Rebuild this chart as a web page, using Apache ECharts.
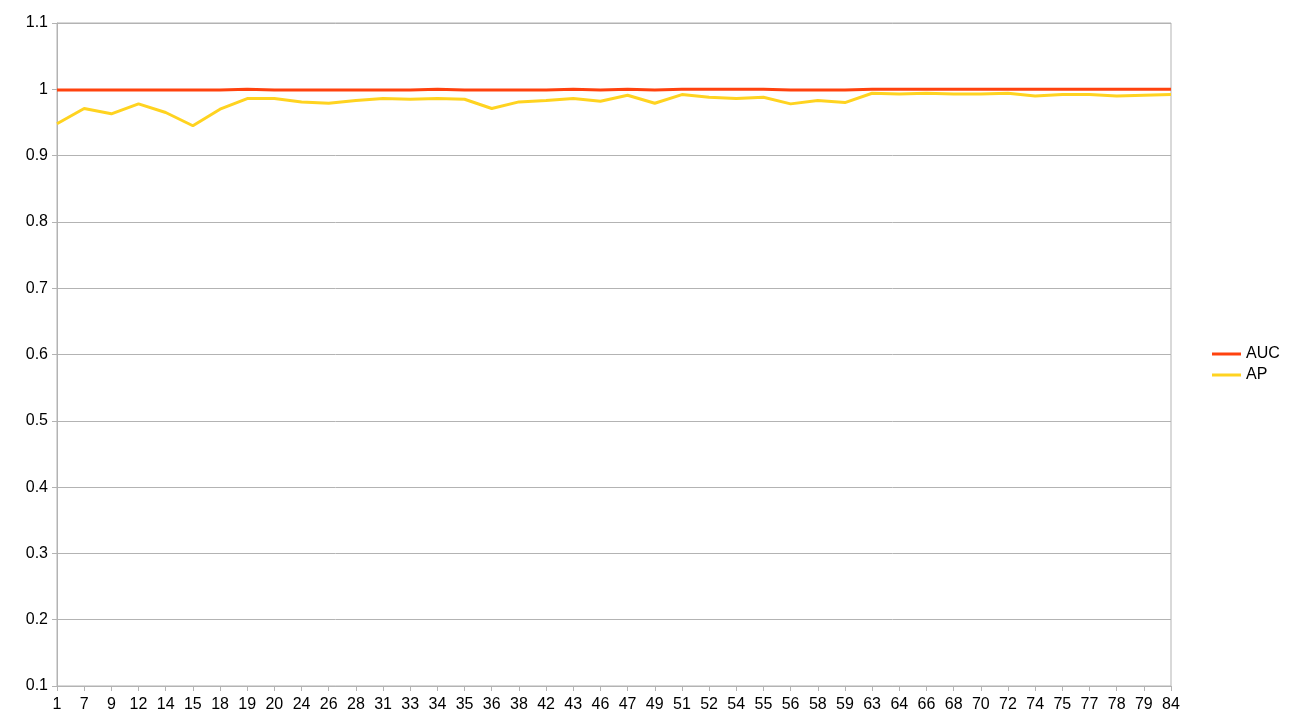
<!DOCTYPE html>
<html>
<head>
<meta charset="utf-8">
<script src="https://cdn.jsdelivr.net/npm/echarts@6/dist/echarts.min.js"></script>
<style>html,body{margin:0;padding:0;background:#fff}#c{width:1294px;height:728px}</style>
</head>
<body>
<div id="c"></div>
<script>
var categories = ['1','7','9','12','14','15','18','19','20','24','26','28','31','33','34','35','36','38','42','43','46','47','49','51','52','54','55','56','58','59','63','64','66','68','70','72','74','75','77','78','79','84'];
var aucValues = [0.999,0.999,0.999,0.999,0.999,0.999,0.999,1.0,0.999,0.999,0.999,0.999,0.999,0.999,1.0,0.999,0.999,0.999,0.999,1.0,0.999,1.0,0.999,1.0,1.0,1.0,1.0,0.999,0.999,0.999,1.0,1.0,1.0,1.0,1.0,1.0,1.0,1.0,1.0,1.0,1.0,1.0];
var apValues = [0.948,0.971,0.963,0.978,0.965,0.945,0.970,0.986,0.986,0.981,0.979,0.983,0.986,0.985,0.986,0.985,0.971,0.981,0.983,0.986,0.982,0.991,0.979,0.992,0.988,0.986,0.988,0.978,0.983,0.980,0.994,0.993,0.994,0.993,0.993,0.994,0.990,0.992,0.992,0.990,0.991,0.992];
var seriesNames = ['AUC','AP'];

var chart = echarts.init(document.getElementById('c'), null, {renderer:'canvas'});
var font = 'Liberation Sans';
chart.setOption({
  animation: false,
  backgroundColor: '#ffffff',
  grid: {left:57, right:123, top:23, bottom:42, show:true, borderColor:'#b3b3b3', borderWidth:1, backgroundColor:'transparent'},
  legend: {
    orient:'vertical', left:1207, top:341, itemWidth:29, itemHeight:3, itemGap:5, icon:'rect',
    textStyle:{fontFamily:font, fontSize:16, color:'#000'},
    data: seriesNames
  },
  xAxis: {
    type:'category', data:categories, boundaryGap:false,
    axisLine:{lineStyle:{color:'#b3b3b3'}},
    axisTick:{show:true, length:5, alignWithLabel:true, interval:0, lineStyle:{color:'#b3b3b3'}},
    axisLabel:{interval:0, fontFamily:font, fontSize:16, color:'#000', margin:11},
    splitLine:{show:false}
  },
  yAxis: {
    type:'value', min:0.1, max:1.1, interval:0.1,
    axisLine:{show:true, lineStyle:{color:'#b3b3b3'}},
    axisTick:{show:true, length:5, lineStyle:{color:'#b3b3b3'}},
    axisLabel:{fontFamily:font, fontSize:16, color:'#000', margin:9, formatter:function(v){return String(Math.round(v*10)/10);}},
    splitLine:{show:true, lineStyle:{color:'#b3b3b3'}}
  },
  series: [
    {name:seriesNames[0], type:'line', data:aucValues, showSymbol:false, symbol:'none', lineStyle:{width:3, color:'#ff420e'}, itemStyle:{color:'#ff420e'}},
    {name:seriesNames[1], type:'line', data:apValues, showSymbol:false, symbol:'none', lineStyle:{width:3, color:'#ffd320'}, itemStyle:{color:'#ffd320'}}
  ]
});
</script>
</body>
</html>
